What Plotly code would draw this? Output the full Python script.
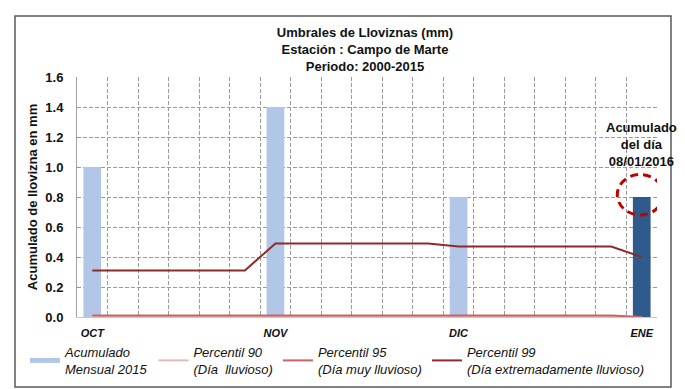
import plotly.graph_objects as go

# ---------------- data ----------------
# 19 pentads: 6 in Oct, 6 in Nov, 6 in Dic, 1 in Ene
pentad_index = list(range(19))
month_tick_pos = [0, 6, 12, 18]
month_labels = ["OCT", "NOV", "DIC", "ENE"]

monthly_pos = [0, 6, 12]
monthly_2015 = [1.0, 1.4, 0.8]          # Acumulado Mensual 2015
day_pos = [18]
day_value = [0.8]                       # Acumulado del día 08/01/2016

p90 = [0.0] * 18 + [0.0]
p95 = [0.01] * 18 + [0.0]
p99 = [0.31, 0.31, 0.31, 0.31, 0.31, 0.31,
       0.49, 0.49, 0.49, 0.49, 0.49, 0.49,
       0.47, 0.47, 0.47, 0.47, 0.47, 0.47,
       0.40]

# ---------------- figure ----------------
# the page body has an 8px margin, so the figure is sized to fill the rest
OFF = 8
W, H = 685 - OFF, 389 - OFF
ML, MT = 77 - OFF, 77 - OFF
PW, PH = 580, 240
MR, MB = W - ML - PW, H - MT - PH


def px_x(sx):  # screen x -> paper x
    return (sx - OFF - ML) / PW


def px_y(sy):  # screen y -> paper y
    return (PH - (sy - OFF - MT)) / PH


FONT = "Liberation Sans, Arial, sans-serif"
BAR_LIGHT = "#b2c6e8"
BAR_DARK = "#2f5a8c"

fig = go.Figure()

fig.add_trace(go.Bar(
    x=monthly_pos, y=monthly_2015, width=0.58,
    marker=dict(color=BAR_LIGHT, line=dict(width=0)),
    showlegend=False, name="Acumulado Mensual 2015",
))
fig.add_trace(go.Bar(
    x=day_pos, y=day_value, width=0.58,
    marker=dict(color=BAR_DARK, line=dict(width=0)),
    showlegend=False, name="Acumulado del día 08/01/2016",
))
# legend swatch for the monthly bars
fig.add_trace(go.Scatter(
    x=[None], y=[None], mode="lines",
    line=dict(color=BAR_LIGHT, width=5),
    name="Acumulado<br>Mensual 2015",
))
fig.add_trace(go.Scatter(
    x=pentad_index, y=p90, mode="lines", cliponaxis=False,
    line=dict(color="#e8b8b8", width=2),
    name="Percentil 90<br>(Día  lluvioso)",
))
fig.add_trace(go.Scatter(
    x=pentad_index, y=p95, mode="lines", cliponaxis=False,
    line=dict(color="#c96464", width=2),
    name="Percentil 95<br>(Día muy lluvioso)",
))
fig.add_trace(go.Scatter(
    x=pentad_index, y=p99, mode="lines", cliponaxis=False,
    line=dict(color="#8e2a2a", width=2),
    name="Percentil 99<br>(Día extremadamente lluvioso)",
))

GRID = "#9a9a9a"
fig.update_layout(
    width=W, height=H,
    margin=dict(l=ML, r=MR, t=MT, b=MB, pad=0, autoexpand=False),
    paper_bgcolor="white", plot_bgcolor="white",
    font=dict(family=FONT, color="#111111"),
    title=dict(
        text="<b>Umbrales de Lloviznas (mm)<br>Estación : Campo de Marte<br>Periodo: 2000-2015</b>",
        font=dict(size=13, family=FONT, color="#111111"),
        x=(365 - OFF) / W, xanchor="center",
        y=1 - (37 - OFF) / H, yanchor="top",
    ),
    barmode="overlay",
    xaxis=dict(
        range=[-0.5, 18.5], automargin=False,
        tickmode="array", tickvals=month_tick_pos, ticktext=month_labels,
        tickfont=dict(size=11, family=FONT, color="#111111", weight="bold", style="italic"),
        showgrid=False, zeroline=False,
        showline=True, linecolor="#c8c8c8", linewidth=1,
        ticks="", ticklabelstandoff=6,
        minor=dict(tick0=0.5, dtick=1, showgrid=True, gridcolor=GRID,
                   gridwidth=1, griddash="4px,2px", ticks=""),
    ),
    yaxis=dict(
        range=[0, 1.6], dtick=0.2, tickformat=".1f", automargin=False,
        tickfont=dict(size=13, family=FONT, color="#111111", weight="bold"),
        showgrid=True, gridcolor=GRID, gridwidth=1, griddash="4px,2px",
        zeroline=False, showline=True, linecolor="#a0a0a0", linewidth=1,
        ticks="", ticklabelstandoff=10,
        title=dict(text="<b>Acumulado de llovizna en mm</b>",
                   font=dict(size=13, family=FONT, color="#111111"),
                   standoff=4),
    ),
    legend=dict(
        orientation="h",
        x=px_x(25), xanchor="left",
        y=px_y(337), yanchor="top",
        font=dict(size=13, family=FONT, color="#111111", style="italic"),
        bgcolor="rgba(0,0,0,0)", borderwidth=0,
        itemwidth=30, traceorder="normal",
    ),
)

# outer chart border
fig.add_shape(
    type="rect", xref="paper", yref="paper",
    x0=px_x(15), x1=px_x(671),
    y0=px_y(387), y1=px_y(16),
    line=dict(color="#5a5a5a", width=1.5), fillcolor="rgba(0,0,0,0)", layer="below",
)

# dashed circle highlighting the day value
fig.add_shape(
    type="circle", xref="x", yref="y",
    x0=day_pos[0] - 0.8, x1=day_pos[0] + 0.7,
    y0=day_value[0] - 0.12, y1=day_value[0] + 0.15,
    line=dict(color="#c00000", width=3, dash="8px,5px"),
)

fig.add_annotation(
    x=day_pos[0], y=day_value[0] + 0.35, xref="x", yref="y",
    text="<b>Acumulado<br>del día<br>08/01/2016</b>",
    showarrow=False, xanchor="center", yanchor="middle",
    font=dict(size=13, family=FONT, color="#111111"),
)

fig.write_html("out.html")
